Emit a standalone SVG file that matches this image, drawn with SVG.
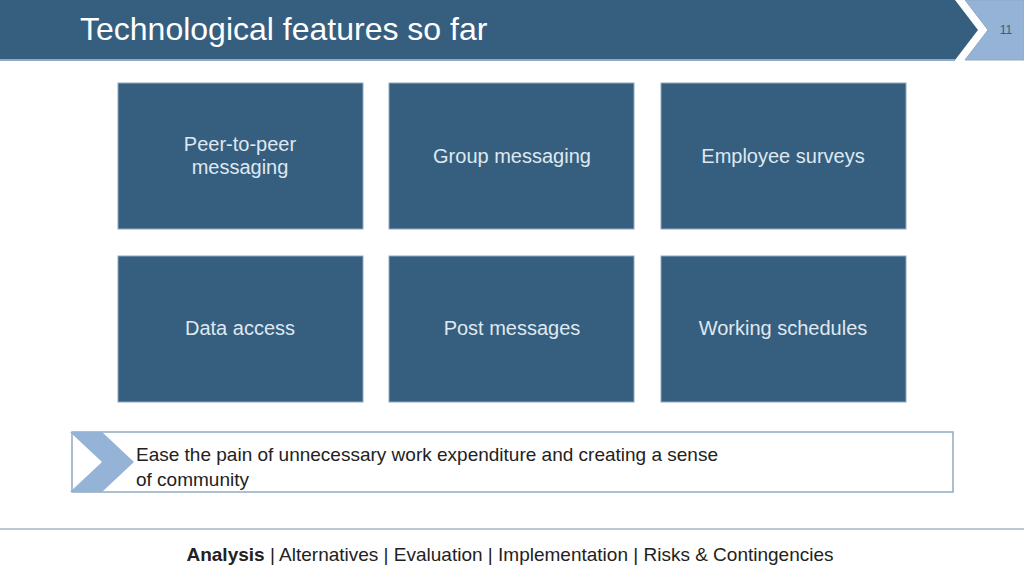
<svg xmlns="http://www.w3.org/2000/svg" width="1024" height="576" viewBox="0 0 1024 576">
<style>
.box{fill:#365f7f;stroke:#8faac2;stroke-width:1}
.bt{font-family:"Liberation Sans",Arial,sans-serif;font-size:20px;fill:#dfe8f0;text-anchor:middle}
.ft{font-family:"Liberation Sans",Arial,sans-serif;font-size:19px;fill:#222}
</style>
<rect width="1024" height="576" fill="#fff"/>
<g id="header">
<polygon points="0,0 955,0 978,30 955,60 0,60" fill="#365f7f"/>
<line x1="0" y1="60" x2="955" y2="60" stroke="#8faac2" stroke-width="2"/>
<polygon points="965,0 1024,0 1024,60 965,60 988,30" fill="#95b3d7" stroke="#8faac2"/>
<text x="80" y="40" font-family="'Liberation Sans',Arial,sans-serif" font-size="32" fill="#fff">Technological features so far</text>
<text x="1006" y="34" font-family="'Liberation Sans',Arial,sans-serif" font-size="12" fill="#365f7f" text-anchor="middle">11</text>
</g>
<g id="n1"><rect class="box" x="118" y="83" width="245" height="146"/><text class="bt" x="240" y="151">Peer-to-peer</text><text class="bt" x="240" y="174">messaging</text></g>
<g id="n2"><rect class="box" x="389" y="83" width="245" height="146"/><text class="bt" x="512" y="163">Group messaging</text></g>
<g id="n3"><rect class="box" x="661" y="83" width="245" height="146"/><text class="bt" x="783" y="163">Employee surveys</text></g>
<g id="n4"><rect class="box" x="118" y="256" width="245" height="146"/><text class="bt" x="240" y="335">Data access</text></g>
<g id="n5"><rect class="box" x="389" y="256" width="245" height="146"/><text class="bt" x="512" y="335">Post messages</text></g>
<g id="n6"><rect class="box" x="661" y="256" width="245" height="146"/><text class="bt" x="783" y="335">Working schedules</text></g>
<g id="summary">
<rect x="72" y="432" width="881" height="60" fill="#fff" stroke="#8faac2" stroke-width="1.5"/>
<polygon points="70,432 102,432 134,462 102,492 70,492 102,462" fill="#95b3d7"/>
<text class="ft" x="136" y="461" font-size="22">Ease the pain of unnecessary work expenditure and creating a sense</text>
<text class="ft" x="136" y="486" font-size="22">of community</text>
</g>
<g id="footer">
<line x1="0" y1="529" x2="1024" y2="529" stroke="#a6b4c2" stroke-width="1.5"/>
<text class="ft" x="510" y="561" text-anchor="middle"><tspan font-weight="bold">Analysis</tspan> | Alternatives | Evaluation | Implementation | Risks &amp; Contingencies</text>
</g>
<g id="connectors"/>
</svg>
